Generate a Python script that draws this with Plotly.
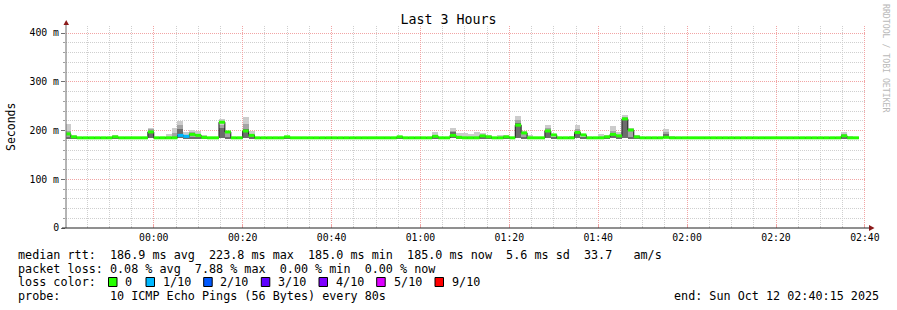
import pandas as pd
import plotly.graph_objects as go

# ---------------- data (milliseconds, one value per 80 s RRD step) ----------------
FIRST_STEP = "2025-10-11 23:40:00"
STEP_SECONDS = 80
VIEW_START = "2025-10-11 23:40:15"
VIEW_END = "2025-10-12 02:40:15"

median_ms = [
    193, 187, 185, 185, 185, 185, 185, 185, 187, 185,
    185, 185, 185, 185, 197, 185, 185, 185, 185, 190,
    188, 192, 190, 186, 185, 185, 217, 197, 185, 185,
    199, 190, 185, 185, 185, 185, 185, 187, 185, 185,
    185, 185, 185, 185, 185, 185, 185, 185, 185, 185,
    185, 185, 185, 185, 185, 185, 187, 185, 185, 185,
    185, 185, 188, 185, 185, 190, 186, 185, 185, 185,
    189, 187, 185, 185, 187, 185, 211, 195, 185, 185,
    185, 199, 191, 185, 185, 185, 196, 191, 185, 185,
    185, 187, 192, 189, 223.8, 201, 187, 185, 185, 185,
    185, 186, 185, 185, 185, 185, 185, 185, 185, 185,
    185, 185, 185, 185, 185, 185, 185, 185, 185, 185,
    185, 185, 185, 185, 185, 185, 185, 185, 185, 185,
    185, 189, 185, 185,
]

smoke_max_ms = [
    213, 191, 186, 186, 186, 186, 186, 186, 191, 186,
    186, 186, 186, 186, 206, 186, 186, 193, 205, 219,
    196, 202, 199, 191, 186, 186, 223, 200, 186, 186,
    227, 198, 186, 186, 186, 186, 186, 189, 186, 186,
    186, 186, 186, 186, 186, 186, 186, 186, 186, 186,
    186, 186, 186, 186, 186, 186, 189, 186, 186, 186,
    186, 186, 197, 186, 186, 206, 195, 195, 193, 197,
    194, 191, 186, 190, 190, 187, 230, 200, 190, 186,
    186, 211, 193, 186, 186, 188, 212, 193, 186, 186,
    193, 190, 210, 197, 232, 205, 190, 186, 186, 186,
    186, 203, 189, 186, 186, 186, 186, 186, 186, 186,
    186, 186, 186, 186, 186, 186, 186, 186, 186, 186,
    186, 186, 186, 186, 186, 186, 186, 186, 186, 186,
    186, 196, 188, 186,
]

smoke_mid_ms = [
    200, 185, 185, 185, 185, 185, 185, 185, 185, 185,
    185, 185, 185, 185, 203, 185, 185, 185, 195, 212,
    190, 197, 185, 185, 185, 185, 212, 195, 185, 185,
    213, 193, 185, 185, 185, 185, 185, 185, 185, 185,
    185, 185, 185, 185, 185, 185, 185, 185, 185, 185,
    185, 185, 185, 185, 185, 185, 185, 185, 185, 185,
    185, 185, 190, 185, 185, 200, 185, 185, 185, 185,
    185, 185, 185, 185, 185, 185, 222, 196, 185, 185,
    185, 205, 185, 185, 185, 185, 204, 185, 185, 185,
    185, 185, 200, 191, 228, 202, 185, 185, 185, 185,
    185, 196, 185, 185, 185, 185, 185, 185, 185, 185,
    185, 185, 185, 185, 185, 185, 185, 185, 185, 185,
    185, 185, 185, 185, 185, 185, 185, 185, 185, 185,
    185, 192, 185, 185,
]

smoke_dark_ms = [
    185, 185, 185, 185, 185, 185, 185, 185, 185, 185,
    185, 185, 185, 185, 200, 185, 185, 185, 185, 204,
    185, 185, 185, 185, 185, 185, 206, 185, 185, 185,
    204, 185, 185, 185, 185, 185, 185, 185, 185, 185,
    185, 185, 185, 185, 185, 185, 185, 185, 185, 185,
    185, 185, 185, 185, 185, 185, 185, 185, 185, 185,
    185, 185, 185, 185, 185, 196, 185, 185, 185, 185,
    185, 185, 185, 185, 185, 185, 215, 185, 185, 185,
    185, 202, 185, 185, 185, 185, 199, 185, 185, 185,
    185, 185, 195, 185, 226, 185, 185, 185, 185, 185,
    185, 193, 185, 185, 185, 185, 185, 185, 185, 185,
    185, 185, 185, 185, 185, 185, 185, 185, 185, 185,
    185, 185, 185, 185, 185, 185, 185, 185, 185, 185,
    185, 185, 185, 185,
]

loss_tenths = [
    0, 0, 0, 0, 0, 0, 0, 0, 0, 0,
    0, 0, 0, 0, 0, 0, 0, 0, 0, 1,
    1, 0, 0, 0, 0, 0, 0, 0, 0, 0,
    0, 0, 0, 0, 0, 0, 0, 0, 0, 0,
    0, 0, 0, 0, 0, 0, 0, 0, 0, 0,
    0, 0, 0, 0, 0, 0, 0, 0, 0, 0,
    0, 0, 0, 0, 0, 0, 0, 0, 0, 0,
    0, 0, 0, 0, 0, 0, 0, 0, 0, 0,
    0, 0, 0, 0, 0, 0, 0, 0, 0, 0,
    0, 0, 0, 0, 0, 0, 0, 0, 0, 0,
    0, 0, 0, 0, 0, 0, 0, 0, 0, 0,
    0, 0, 0, 0, 0, 0, 0, 0, 0, 0,
    0, 0, 0, 0, 0, 0, 0, 0, 0, 0,
    0, 0, 0, 0,
]
SMOKE_FLOOR_MS = 184.3

y_tick_values = [0, 0.1, 0.2, 0.3, 0.4]
y_tick_labels = ["0", "100 m", "200 m", "300 m", "400 m"]

loss_legend = ["0", "1/10", "2/10", "3/10", "4/10", "5/10", "9/10"]
loss_colors = {0: "#26ff00", 1: "#00b8ff", 2: "#0059ff", 3: "#5e00ff",
               4: "#7e00ff", 5: "#dd00ff", 9: "#ff0000"}

legend_lines = [
    "median rtt:  186.9 ms avg  223.8 ms max  185.0 ms min  185.0 ms now  5.6 ms sd  33.7   am/s",
    "packet loss: 0.08 % avg  7.88 % max  0.00 % min  0.00 % now",
    "loss color:",
    "probe:       10 ICMP Echo Pings (56 Bytes) every 80s",
]
end_text = "end: Sun Oct 12 02:40:15 2025"

# ---------------- layout geometry (pixels) ----------------
W, H = 897, 310
PL, PR, PT, PB = 66, 866, 26, 228   # plot box


def px(x):
    return (x - PL) / (PR - PL)


def py(y):
    return (PB - y) / (PB - PT)


MONO = "DejaVu Sans Mono"

n = len(median_ms)
step = pd.Timedelta(seconds=STEP_SECONDS)
starts = pd.date_range(FIRST_STEP, periods=n, freq=f"{STEP_SECONDS}s")
centers = starts + step / 2
width_ms = STEP_SECONDS * 1000

floor_s = SMOKE_FLOOR_MS / 1000

fig = go.Figure()

for vals, col in [(smoke_max_ms, "#cccccc"), (smoke_mid_ms, "#a4a4a4"), (smoke_dark_ms, "#6c6c6c")]:
    fig.add_trace(go.Bar(
        x=centers, y=[v / 1000 - floor_s for v in vals], base=floor_s,
        width=width_ms, marker=dict(color=col, line=dict(width=0)),
        hoverinfo="skip", showlegend=False,
    ))

# median black step line
line_x = list(starts) + [starts[-1] + step]
line_y = [m / 1000 for m in median_ms] + [median_ms[-1] / 1000]
fig.add_trace(go.Scatter(
    x=line_x, y=line_y, mode="lines", line=dict(color="#202020", width=1, shape="hv"),
    hoverinfo="skip", showlegend=False,
))

# loss-coloured median segments (horizontal only, one per step)
for key in sorted(set(loss_tenths)):
    sx, sy = [], []
    for s, m, l in zip(starts, median_ms, loss_tenths):
        if l == key:
            sx += [s, s + step, None]
            sy += [m / 1000, m / 1000, None]
    fig.add_trace(go.Scatter(
        x=sx, y=sy, mode="lines", line=dict(color=loss_colors[key], width=3),
        connectgaps=False, hoverinfo="skip", showlegend=False,
    ))

GRID = "#cfcfcf"
MGRID = "#f2a4a4"

fig.update_layout(
    width=W, height=H,
    margin=dict(l=PL, r=W - PR, t=PT, b=H - PB),
    paper_bgcolor="white", plot_bgcolor="white",
    barmode="overlay", bargap=0,
    showlegend=False,
    font=dict(family=MONO, color="black"),
    title=dict(text="Last 3 Hours", x=0.5, xref="container", xanchor="center",
               y=1 - 19 / H, yref="container", yanchor="middle",
               font=dict(family=MONO, size=13.3, color="black")),
)

fig.update_xaxes(
    type="date", range=[VIEW_START, VIEW_END],
    tick0="2025-10-12 00:00", dtick=20 * 60 * 1000, tickformat="%H:%M",
    showgrid=True, gridcolor=MGRID, gridwidth=1, griddash="1px,1px",
    ticks="inside", ticklen=3, tickcolor=MGRID, ticklabelstandoff=2,
    tickfont=dict(family=MONO, size=9.8, color="black"),
    showline=False, zeroline=False,
    minor=dict(dtick=5 * 60 * 1000, tick0="2025-10-12 00:00", showgrid=True,
               gridcolor=GRID, gridwidth=1, griddash="1px,1px",
               ticks="inside", ticklen=2, tickcolor=GRID),
)
fig.update_yaxes(
    range=[0, 0.1 * (PB - PT) / 48.75],
    tickvals=y_tick_values, ticktext=y_tick_labels,
    showgrid=True, gridcolor=MGRID, gridwidth=1, griddash="1px,1px",
    ticks="outside", ticklen=4, tickcolor="#707070",
    tickfont=dict(family=MONO, size=9.8, color="black"),
    showline=False, zeroline=False,
    minor=dict(dtick=0.02, tick0=0, showgrid=True, gridcolor=GRID, gridwidth=1,
               griddash="1px,1px", ticks="outside", ticklen=2, tickcolor="#a0a0a0"),
)

shapes = []
# axis lines with arrows
shapes.append(dict(type="line", xref="paper", yref="paper", x0=px(66), x1=px(66),
                   y0=py(228), y1=py(22), line=dict(color="#6a6a6a", width=1)))
shapes.append(dict(type="line", xref="paper", yref="paper", x0=px(62), x1=px(870),
                   y0=py(228), y1=py(228), line=dict(color="#202020", width=1)))
shapes.append(dict(type="path", xref="paper", yref="paper",
                   path=f"M {px(63.5)},{py(25)} L {px(69)},{py(25)} L {px(66.2)},{py(20)} Z",
                   fillcolor="#8b1a1a", line=dict(width=0)))
shapes.append(dict(type="path", xref="paper", yref="paper",
                   path=f"M {px(869)},{py(225)} L {px(869)},{py(231)} L {px(874.5)},{py(228)} Z",
                   fillcolor="#8b1a1a", line=dict(width=0)))

annotations = []
row_y = [255, 268.6, 282.3, 296]
LEG_SIZE = 11.75
for txt, yy in zip(legend_lines, row_y):
    annotations.append(dict(text=txt.replace(" ", "\u00a0"), xref="paper", yref="paper",
                            x=px(16), y=py(yy), xanchor="left", yanchor="middle",
                            showarrow=False, font=dict(family=MONO, size=LEG_SIZE, color="black")))
annotations.append(dict(text=end_text.replace(" ", "\u00a0"), xref="paper", yref="paper",
                        x=px(880.5), y=py(296), xanchor="right", yanchor="middle",
                        showarrow=False, font=dict(family=MONO, size=LEG_SIZE, color="black")))

box_x = [108.5, 146, 203.7, 261.3, 319, 376.7, 435]
text_x = [123.3, 160.7, 218.3, 276, 333.7, 391.7, 450]
for lab, bx, tx in zip(loss_legend, box_x, text_x):
    key = int(lab.split("/")[0])
    shapes.append(dict(type="rect", xref="paper", yref="paper",
                       x0=px(bx), x1=px(bx + 8.5), y0=py(277.5), y1=py(286.5),
                       fillcolor=loss_colors[key], line=dict(color="black", width=1)))
    annotations.append(dict(text=lab, xref="paper", yref="paper", x=px(tx), y=py(282.3),
                            xanchor="left", yanchor="middle", showarrow=False,
                            font=dict(family=MONO, size=LEG_SIZE, color="black")))

annotations.append(dict(text="Seconds", xref="paper", yref="paper", x=px(11), y=py(127),
                        xanchor="center", yanchor="middle", textangle=-90, showarrow=False,
                        font=dict(family=MONO, size=11.5, color="black")))
annotations.append(dict(text="RRDTOOL / TOBI OETIKER".replace(" ", "\u00a0"), xref="paper", yref="paper",
                        x=px(886), y=py(59), xanchor="center", yanchor="middle", textangle=90,
                        showarrow=False, font=dict(family=MONO, size=8.2, color="#b8b8b8")))

fig.update_layout(shapes=shapes, annotations=annotations)

fig.write_html("out.html")
